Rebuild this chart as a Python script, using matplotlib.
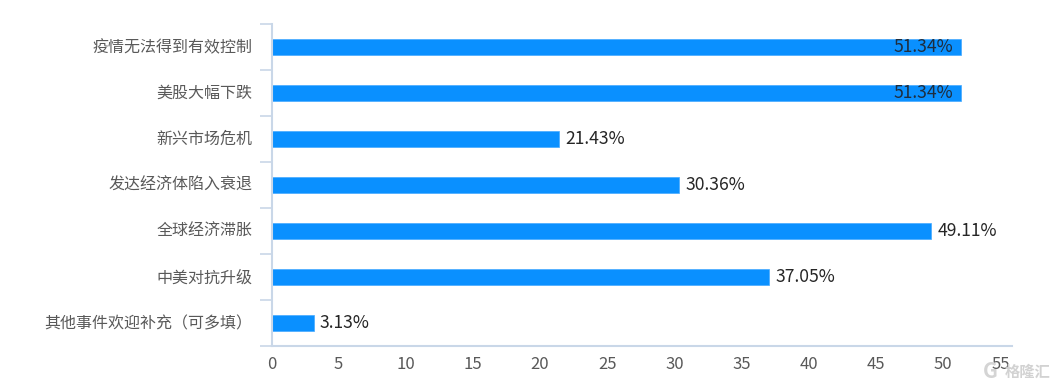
import matplotlib

matplotlib.use("Agg")
import matplotlib.pyplot as plt

categories = [
    "疫情无法得到有效控制",
    "美股大幅下跌",
    "新兴市场危机",
    "发达经济体陷入衰退",
    "全球经济滞胀",
    "中美对抗升级",
    "其他事件欢迎补充（可多填）",
]
values = [51.34, 51.34, 21.43, 30.36, 49.11, 37.05, 3.13]
x_ticks = list(range(0, 60, 5))

BAR = "#0a90ff"
AXIS = "#c9d7e8"
TEXT = "#595959"
W, H = 1055, 390

plt.rcParams["font.family"] = ["Noto Sans CJK SC", "DejaVu Sans"]

fig = plt.figure(figsize=(W / 100, H / 100), dpi=100)
ax = fig.add_axes([271.5 / W, 1 - 346 / H, (1012 - 271.5) / W, (346 - 24) / H])

pos = list(range(len(categories)))
ax.barh(pos, values, height=0.365, color=BAR, edgecolor="#45aaff", linewidth=0.5)
ax.set_xlim(0, 55.14)
ax.set_ylim(len(categories) - 0.5, -0.5)

for spine in ["top", "right"]:
    ax.spines[spine].set_visible(False)
for spine in ["left", "bottom"]:
    ax.spines[spine].set_color(AXIS)
    ax.spines[spine].set_linewidth(1.5)

# category ticks sit on the band edges, labels in the middle of each band
ax.set_yticks([p - 0.5 for p in pos] + [len(pos) - 0.5])
ax.set_yticklabels([])
ax.tick_params(axis="y", length=8.6, width=1.2, color=AXIS)
for p, name in zip(pos, categories):
    ax.annotate(name, (0, p), xytext=(-14, -0.5), textcoords="offset points",
                ha="right", va="center", fontsize=11.5, color=TEXT)

ax.set_xticks(x_ticks)
ax.tick_params(axis="x", length=0, pad=7.5, labelsize=12, labelcolor=TEXT)
# last tick label is pulled left in the original
ax.get_xticklabels()[-1].set_horizontalalignment("right")
ax.get_xticklabels()[-1].set_x(55)

for p, v in zip(pos, values):
    # the two longest labels sit inside the bar end
    inside = v > 50
    ax.annotate(f"{v:.2f}%", (v, p), xytext=(-5.7 if inside else 4.5, 0),
                textcoords="offset points", ha="right" if inside else "left",
                va="center", fontsize=12.6, color="#1f2d3d" if inside else "#262626")

# watermark, bottom right
fig.text(990 / W, 1 - 372 / H, "G", fontsize=15, fontweight="bold", color="#d4d4d4",
         ha="center", va="center")
fig.text(1050 / W, 1 - 372 / H, "格隆汇", fontsize=11, fontweight="bold", color="#d2d2d2",
         ha="right", va="center")

fig.savefig("out.png", dpi=100)
